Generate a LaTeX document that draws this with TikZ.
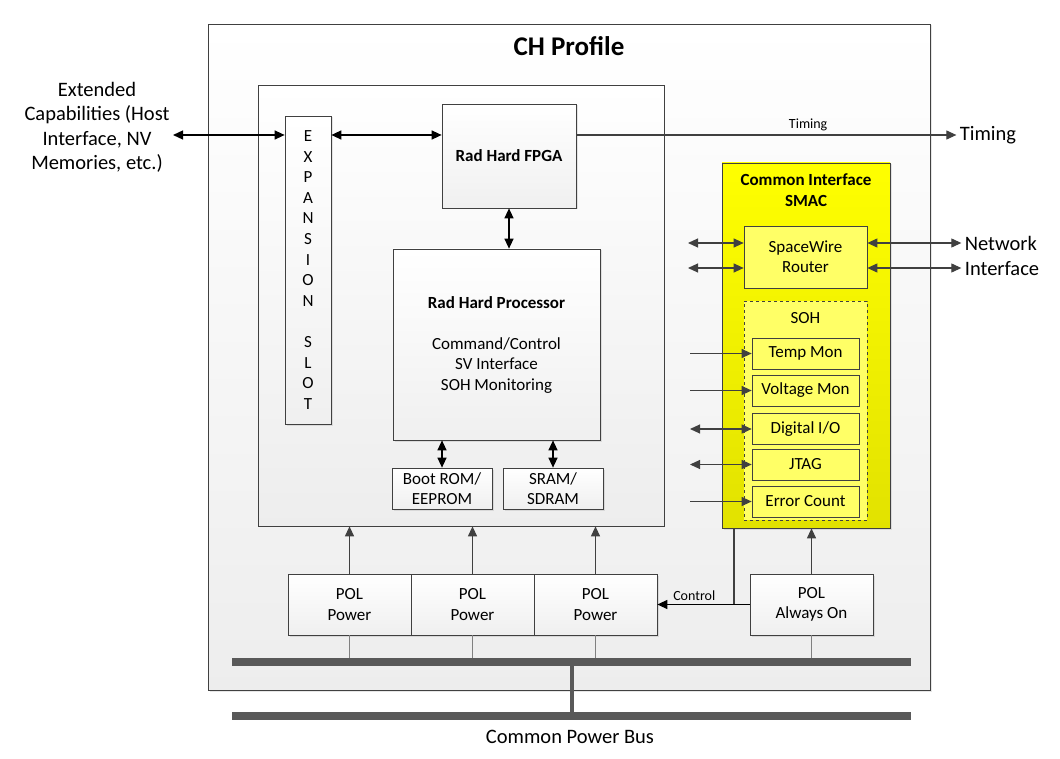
\documentclass[tikz,border=0pt]{standalone}
\usepackage{fontspec}
\setmainfont{Carlito}
\usetikzlibrary{shapes,arrows,arrows.meta,shadows}
\definecolor{edge}{HTML}{404040}
\definecolor{busgray}{HTML}{595959}
\definecolor{smactop}{HTML}{FFFF00}
\definecolor{smacbot}{HTML}{E2E200}
\definecolor{ylw}{HTML}{FFFF66}
\tikzstyle{frame} = [rectangle, draw=edge, line width=0.7pt, top color=white, bottom color={black!7}, inner sep=0pt]
\tikzstyle{block} = [rectangle, draw=edge, line width=0.7pt, top color=white, bottom color={black!6},
    text centered, align=center, inner sep=0pt, font=\fontsize{17}{20.5}\selectfont,
    drop shadow={shadow xshift=1.5pt, shadow yshift=-1.5pt, opacity=0.2}]
\tikzstyle{smac} = [rectangle, draw=edge, line width=0.7pt, top color=smactop, bottom color=smacbot, inner sep=0pt,
    drop shadow={shadow xshift=1.5pt, shadow yshift=-1.5pt, opacity=0.2}]
\tikzstyle{ylwblock} = [rectangle, draw=edge, line width=0.7pt, fill=ylw, text centered, align=center,
    inner sep=0pt, font=\fontsize{17}{20}\selectfont]
\tikzstyle{sohframe} = [rectangle, draw=edge, line width=0.7pt, dashed, fill=ylw, inner sep=0pt]
\tikzstyle{pol} = [block, minimum width=123pt, minimum height=61pt]
\tikzstyle{bus} = [rectangle, fill=busgray, inner sep=0pt]
\tikzstyle{biarrow} = [line width=1.3pt, {Triangle[length=10pt,width=9pt]}-{Triangle[length=10pt,width=9pt]}, black]
\tikzstyle{grayarrow} = [line width=1.1pt, -{Triangle[length=10pt,width=9pt]}, draw=edge, fill=edge]
\tikzstyle{graybi} = [line width=1.1pt, {Triangle[length=10pt,width=9pt]}-{Triangle[length=10pt,width=9pt]}, draw=edge, fill=edge]
\tikzstyle{feed} = [line width=1pt, draw=gray]
\tikzstyle{smalltext} = [font=\fontsize{14}{16}\selectfont]
\tikzstyle{bigtext} = [font=\fontsize{20.5}{24.4}\selectfont, align=center]

\begin{document}
\begin{tikzpicture}[x=1pt, y=-1pt, node distance=123pt, auto]
    \useasboundingbox (0,0) rectangle (1060,759);
    % Place nodes
    \node [frame, minimum width=722pt, minimum height=666pt,
        drop shadow={shadow xshift=1.5pt, shadow yshift=-1.5pt, opacity=0.2}] (chprofile) at (569,357) {};
    \node [font=\bfseries\fontsize{27}{30}\selectfont] (chtitle) at (569,46) {CH Profile};
    \node [frame, minimum width=406pt, minimum height=441pt] (board) at (461,305.5) {};
    \node [block, minimum width=46pt, minimum height=308pt, font=\fontsize{17}{20.6}\selectfont] (expslot) at (308,270)
        {E\\X\\P\\A\\N\\S\\I\\O\\N\\[20.6pt]S\\L\\O\\T};
    \node [block, minimum width=134pt, minimum height=104pt, font=\bfseries\fontsize{17}{20}\selectfont] (fpga) at (509,156) {Rad Hard FPGA};
    \node [block, minimum width=207pt, minimum height=191pt] (proc) at (496.5,344.5)
        {{\bfseries Rad Hard Processor}\\[20.5pt]Command/Control\\SV Interface\\SOH Monitoring};
    \node [block, minimum width=100pt, minimum height=41pt] (bootrom) at (442,488.5) {Boot ROM/\\EEPROM};
    \node [block, minimum width=100pt, minimum height=41pt] (sram) at (553,488.5) {SRAM/\\SDRAM};

    \node [smac, minimum width=168pt, minimum height=365pt] (smac) at (806,345.5) {};
    \node [font=\bfseries\fontsize{17}{20.5}\selectfont, align=center] (smactitle) at (806,190) {Common Interface\\SMAC};
    \node [ylwblock, minimum width=123pt, minimum height=62pt] (router) at (805.5,257) {SpaceWire\\Router};
    \node [sohframe, minimum width=123pt, minimum height=219pt] (soh) at (805.5,410.5) {};
    \node [font=\fontsize{17}{20}\selectfont] (sohtitle) at (805.5,318) {SOH};
    \node [ylwblock, minimum width=107pt, minimum height=31pt] (tempmon) at (805.5,353.5) {Temp Mon};
    \node [ylwblock, minimum width=107pt, minimum height=31pt] (voltmon) at (805.5,390.5) {Voltage Mon};
    \node [ylwblock, minimum width=107pt, minimum height=31pt] (digio) at (805.5,429) {Digital I/O};
    \node [ylwblock, minimum width=107pt, minimum height=31pt] (jtag) at (805.5,464.5) {JTAG};
    \node [ylwblock, minimum width=107pt, minimum height=31pt] (errcount) at (805.5,501.5) {Error Count};

    \node [pol] (pol1) at (349.5,604.5) {POL\\Power};
    \node [pol, right of=pol1] (pol2) {POL\\Power};
    \node [pol, right of=pol2] (pol3) {POL\\Power};
    \node [pol] (polaon) at (811.5,604.5) {POL\\Always On};

    \node [bus, minimum width=679pt, minimum height=8pt] (bus) at (571.5,662) {};
    \node [bus, minimum width=679pt, minimum height=8pt] (mainbus) at (571.5,716) {};
    \node [bigtext] (buslabel) at (570,737) {Common Power Bus};

    \node [bigtext] (extcap) at (97,127.5) {Extended\\Capabilities (Host\\Interface, NV\\Memories, etc.)};
    \node [bigtext] (timing) at (988,135) {Timing};
    \node [bigtext, align=left] (netif) at (1002,256) {Network\\Interface};

    \coordinate (sigrow) at (0,135);
    \coordinate (swa) at (688,243);
    \coordinate (swb) at (688,268);
    \coordinate (sohin) at (690,0);
    \coordinate (ctrltap) at (734,0);

    % Draw edges
    \draw [biarrow] (extcap.east |- sigrow) -- (expslot.west |- sigrow);
    \draw [biarrow] (expslot.east |- sigrow) -- (fpga.west |- sigrow);
    \draw [grayarrow] (fpga.east |- sigrow) -- node [above, pos=0.61, smalltext] (timinglbl) {Timing} (timing.west |- sigrow);
    \draw [biarrow] (fpga.south) -- (fpga.south |- proc.north);
    \draw [biarrow] (proc.south -| bootrom) -- (bootrom.north);
    \draw [biarrow] (proc.south -| sram) -- (sram.north);

    \draw [graybi] (swa) -- (router.west |- swa);
    \draw [graybi] (swb) -- (router.west |- swb);
    \draw [graybi] (router.east |- swa) -- (netif.west |- swa);
    \draw [graybi] (router.east |- swb) -- (netif.west |- swb);
    \draw [grayarrow] (sohin |- tempmon) -- (tempmon.west);
    \draw [grayarrow] (sohin |- voltmon) -- (voltmon.west);
    \draw [graybi] (sohin |- digio) -- (digio.west);
    \draw [graybi] (sohin |- jtag) -- (jtag.west);
    \draw [grayarrow] (sohin |- errcount) -- (errcount.west);

    \foreach \p in {pol1,pol2,pol3} {
        \draw [grayarrow] (\p.north) -- (\p.north |- board.south);
        \draw [feed] (\p.south) -- (\p.south |- bus.north);
    }
    \draw [grayarrow] (polaon.north) -- (polaon.north |- smac.south);
    \draw [feed] (polaon.south) -- (polaon.south |- bus.north);
    \draw [line width=1.2pt, draw=edge] (ctrltap |- smac.south) -- (ctrltap |- polaon.west);
    \draw [line width=1.3pt, -{Triangle[length=10pt,width=9pt]}, black] (polaon.west) -- node [above, pos=0.6, smalltext] (ctrllbl) {Control} (pol3.east);
    \draw [line width=4pt, draw=busgray] (bus.south) -- (mainbus.north);
\end{tikzpicture}
\end{document}
